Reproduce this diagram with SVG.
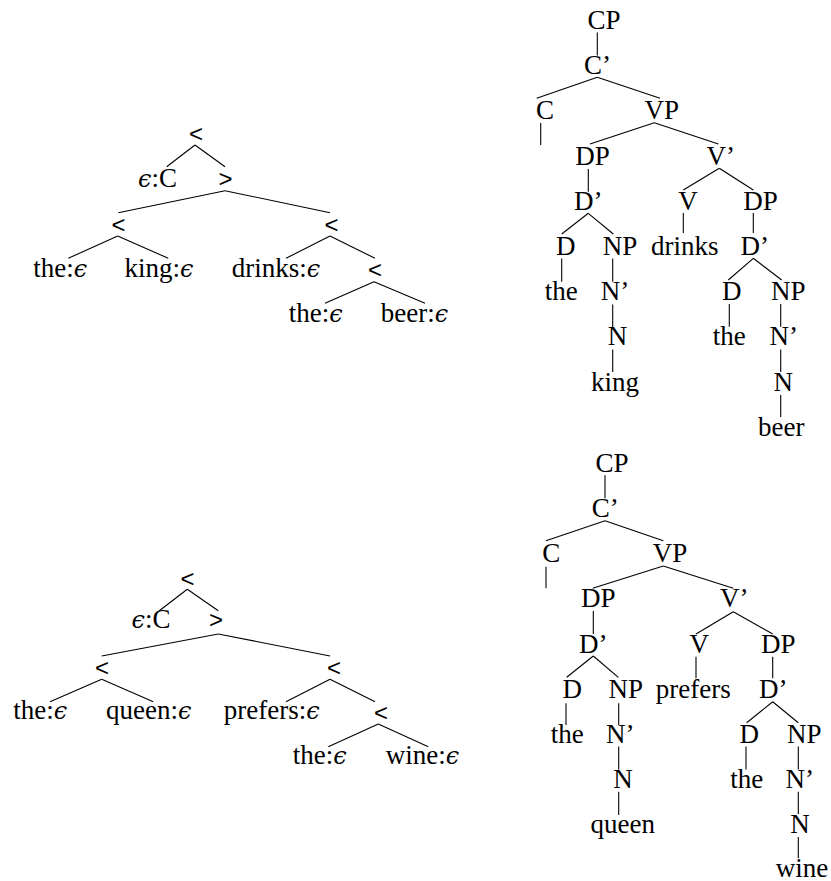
<svg xmlns="http://www.w3.org/2000/svg" width="831" height="881" viewBox="0 0 831 881">
  <style>
    .t { font-family: "Liberation Serif", "DejaVu Serif", serif; font-size: 27px; fill: #000; text-anchor: middle; }
    .op { font-family: "Liberation Sans", "DejaVu Sans", sans-serif; font-size: 24px; fill: #000; text-anchor: middle; }
    .e { font-style: italic; font-family: "DejaVu Serif", "Liberation Serif", serif; font-size: 24px; }
    .edges line { stroke: #000; stroke-width: 1.1; fill: none; }
  </style>
  <rect width="831" height="881" fill="#fff"/>

  <!-- derivation tree 1: "the king drinks the beer" -->
  <g id="tree1">
    <g class="edges" id="tree1-edges">
      <line x1="195" y1="145" x2="166.7" y2="166.7"/>
      <line x1="195" y1="145" x2="225" y2="166.7"/>
      <line x1="225" y1="190.7" x2="118.3" y2="212.7"/>
      <line x1="225" y1="190.7" x2="330" y2="212.7"/>
      <line x1="117.7" y1="236" x2="68.3" y2="258.3"/>
      <line x1="117.7" y1="236" x2="168.3" y2="258.3"/>
      <line x1="330" y1="236" x2="286" y2="258.3"/>
      <line x1="330" y1="236" x2="375" y2="258.3"/>
      <line x1="374" y1="281.7" x2="325" y2="303.3"/>
      <line x1="374" y1="281.7" x2="425" y2="303.3"/>
    </g>
    <g id="t1-root"><text class="op" x="196" y="141.5">&lt;</text></g>
    <g id="t1-c"><text class="t" x="157.5" y="187"><tspan class="e">ϵ</tspan>:C</text></g>
    <g id="t1-gt"><text class="op" x="225.5" y="187">&gt;</text></g>
    <g id="t1-dp"><text class="op" x="118.5" y="232.5">&lt;</text></g>
    <g id="t1-vp"><text class="op" x="331.5" y="232.5">&lt;</text></g>
    <g id="t1-the"><text class="t" x="60.3" y="277">the:<tspan class="e">ϵ</tspan></text></g>
    <g id="t1-king"><text class="t" x="159" y="277">king:<tspan class="e">ϵ</tspan></text></g>
    <g id="t1-drinks"><text class="t" x="276" y="277">drinks:<tspan class="e">ϵ</tspan></text></g>
    <g id="t1-obj"><text class="op" x="375" y="278">&lt;</text></g>
    <g id="t1-the2"><text class="t" x="315.8" y="322">the:<tspan class="e">ϵ</tspan></text></g>
    <g id="t1-beer"><text class="t" x="414.5" y="322">beer:<tspan class="e">ϵ</tspan></text></g>
  </g>

  <!-- phrase structure tree 1 -->
  <g id="tree2">
    <g class="edges" id="tree2-edges">
      <line x1="597.3" y1="32.5" x2="597.3" y2="55.5"/>
      <line x1="597.3" y1="77.3" x2="536.7" y2="98.3"/>
      <line x1="597.3" y1="77.3" x2="660" y2="98.3"/>
      <line x1="540.7" y1="123" x2="540.7" y2="145"/>
      <line x1="654.3" y1="122.7" x2="590" y2="144"/>
      <line x1="654.3" y1="122.7" x2="718.3" y2="144"/>
      <line x1="588.3" y1="169" x2="588.3" y2="191.7"/>
      <line x1="719.3" y1="168.3" x2="683.3" y2="190"/>
      <line x1="719.3" y1="168.3" x2="753.3" y2="190"/>
      <line x1="588.3" y1="213.3" x2="561.7" y2="234"/>
      <line x1="588.3" y1="213.3" x2="613.3" y2="234"/>
      <line x1="683.3" y1="213" x2="683.3" y2="233"/>
      <line x1="753.3" y1="213" x2="753.3" y2="233"/>
      <line x1="561.7" y1="258.5" x2="561.7" y2="281.7"/>
      <line x1="612.7" y1="258.5" x2="612.7" y2="281.7"/>
      <line x1="612.7" y1="304.5" x2="612.7" y2="327.5"/>
      <line x1="612.7" y1="349.5" x2="612.7" y2="372"/>
      <line x1="753.3" y1="258.3" x2="728.3" y2="280"/>
      <line x1="753.3" y1="258.3" x2="781.7" y2="280"/>
      <line x1="729.3" y1="304" x2="729.3" y2="326.7"/>
      <line x1="780.7" y1="304" x2="780.7" y2="326.7"/>
      <line x1="780.7" y1="349.5" x2="780.7" y2="372"/>
      <line x1="780.7" y1="395" x2="780.7" y2="417"/>
    </g>
    <g id="t2-cp"><text class="t" x="604" y="29">CP</text></g>
    <g id="t2-cbar"><text class="t" x="597.5" y="74.2">C’</text></g>
    <g id="t2-c"><text class="t" x="545" y="119.4">C</text></g>
    <g id="t2-vp"><text class="t" x="661.7" y="119.4">VP</text></g>
    <g id="t2-dp"><text class="t" x="592.5" y="164.6">DP</text></g>
    <g id="t2-vbar"><text class="t" x="720.8" y="164.6">V’</text></g>
    <g id="t2-dbar"><text class="t" x="588.3" y="209.8">D’</text></g>
    <g id="t2-v"><text class="t" x="688" y="209.8">V</text></g>
    <g id="t2-dp2"><text class="t" x="760.5" y="209.8">DP</text></g>
    <g id="t2-d"><text class="t" x="565.8" y="255">D</text></g>
    <g id="t2-np"><text class="t" x="620" y="255">NP</text></g>
    <g id="t2-drinks"><text class="t" x="684.7" y="255">drinks</text></g>
    <g id="t2-dbar2"><text class="t" x="754.7" y="255">D’</text></g>
    <g id="t2-the"><text class="t" x="561.3" y="300.2">the</text></g>
    <g id="t2-nbar"><text class="t" x="615" y="300.2">N’</text></g>
    <g id="t2-d2"><text class="t" x="731.7" y="300.2">D</text></g>
    <g id="t2-np2"><text class="t" x="788.3" y="300.2">NP</text></g>
    <g id="t2-n"><text class="t" x="617.5" y="345.4">N</text></g>
    <g id="t2-the2"><text class="t" x="729.2" y="345.4">the</text></g>
    <g id="t2-nbar2"><text class="t" x="783.7" y="345.4">N’</text></g>
    <g id="t2-king"><text class="t" x="615" y="390.6">king</text></g>
    <g id="t2-n2"><text class="t" x="783.3" y="390.6">N</text></g>
    <g id="t2-beer"><text class="t" x="781.2" y="435.8">beer</text></g>
  </g>

  <!-- derivation tree 2: "the queen prefers the wine" -->
  <g id="tree3">
    <g class="edges" id="tree3-edges">
      <line x1="187.3" y1="589.3" x2="159.3" y2="610.7"/>
      <line x1="187.3" y1="589.3" x2="218.3" y2="610.7"/>
      <line x1="218.3" y1="634" x2="101.7" y2="656"/>
      <line x1="218.3" y1="634" x2="330" y2="656"/>
      <line x1="101.7" y1="679.3" x2="50" y2="701.7"/>
      <line x1="101.7" y1="679.3" x2="153.3" y2="701.7"/>
      <line x1="330" y1="679.3" x2="286" y2="701.7"/>
      <line x1="330" y1="679.3" x2="375" y2="701.7"/>
      <line x1="378.3" y1="724" x2="328.3" y2="746.7"/>
      <line x1="378.3" y1="724" x2="428.3" y2="746.7"/>
    </g>
    <g id="t3-root"><text class="op" x="187.5" y="586.5">&lt;</text></g>
    <g id="t3-c"><text class="t" x="151" y="628.3"><tspan class="e">ϵ</tspan>:C</text></g>
    <g id="t3-gt"><text class="op" x="216" y="628.3">&gt;</text></g>
    <g id="t3-dp"><text class="op" x="102" y="675.5">&lt;</text></g>
    <g id="t3-vp"><text class="op" x="334" y="675.5">&lt;</text></g>
    <g id="t3-the"><text class="t" x="40.3" y="719.3">the:<tspan class="e">ϵ</tspan></text></g>
    <g id="t3-queen"><text class="t" x="148.7" y="719.3">queen:<tspan class="e">ϵ</tspan></text></g>
    <g id="t3-prefers"><text class="t" x="271.7" y="719.3">prefers:<tspan class="e">ϵ</tspan></text></g>
    <g id="t3-obj"><text class="op" x="381" y="721">&lt;</text></g>
    <g id="t3-the2"><text class="t" x="319.7" y="764">the:<tspan class="e">ϵ</tspan></text></g>
    <g id="t3-wine"><text class="t" x="422.5" y="764">wine:<tspan class="e">ϵ</tspan></text></g>
  </g>

  <!-- phrase structure tree 2 -->
  <g id="tree4">
    <g class="edges" id="tree4-edges">
      <line x1="605" y1="475.2" x2="605" y2="498.2"/>
      <line x1="605" y1="520.7" x2="546" y2="540.7"/>
      <line x1="605" y1="520.7" x2="663.3" y2="540.7"/>
      <line x1="546" y1="566.7" x2="546" y2="588.3"/>
      <line x1="663.3" y1="566" x2="592.7" y2="588.3"/>
      <line x1="663.3" y1="566" x2="733.3" y2="588.3"/>
      <line x1="593.3" y1="611" x2="593.3" y2="634"/>
      <line x1="733.3" y1="611.7" x2="696" y2="634"/>
      <line x1="733.3" y1="611.7" x2="772.7" y2="634"/>
      <line x1="593.3" y1="656" x2="566.7" y2="677.3"/>
      <line x1="593.3" y1="656" x2="618.3" y2="677.3"/>
      <line x1="696" y1="656.7" x2="696" y2="678.3"/>
      <line x1="772.7" y1="656.7" x2="772.7" y2="678.3"/>
      <line x1="566" y1="703.3" x2="566" y2="725"/>
      <line x1="618.7" y1="703.3" x2="618.7" y2="725"/>
      <line x1="618.7" y1="746.5" x2="618.7" y2="769.5"/>
      <line x1="618.7" y1="791.7" x2="618.7" y2="815"/>
      <line x1="772.7" y1="701.7" x2="746.7" y2="722.7"/>
      <line x1="772.7" y1="701.7" x2="798.3" y2="722.7"/>
      <line x1="746" y1="746.5" x2="746" y2="769.5"/>
      <line x1="798.3" y1="746.5" x2="798.3" y2="769.5"/>
      <line x1="798.3" y1="791.7" x2="798.3" y2="814"/>
      <line x1="798.3" y1="837" x2="798.3" y2="858"/>
    </g>
    <g id="t4-cp"><text class="t" x="612" y="471.7">CP</text></g>
    <g id="t4-cbar"><text class="t" x="605.3" y="516.9">C’</text></g>
    <g id="t4-c"><text class="t" x="551.3" y="562.1">C</text></g>
    <g id="t4-vp"><text class="t" x="670" y="562.1">VP</text></g>
    <g id="t4-dp"><text class="t" x="598.3" y="607.3">DP</text></g>
    <g id="t4-vbar"><text class="t" x="734.2" y="607.3">V’</text></g>
    <g id="t4-dbar"><text class="t" x="593.3" y="652.5">D’</text></g>
    <g id="t4-v"><text class="t" x="699.2" y="652.5">V</text></g>
    <g id="t4-dp2"><text class="t" x="778.3" y="652.5">DP</text></g>
    <g id="t4-d"><text class="t" x="572.2" y="697.7">D</text></g>
    <g id="t4-np"><text class="t" x="625.7" y="697.7">NP</text></g>
    <g id="t4-prefers"><text class="t" x="693.3" y="697.7">prefers</text></g>
    <g id="t4-dbar2"><text class="t" x="773.3" y="697.7">D’</text></g>
    <g id="t4-the"><text class="t" x="567.2" y="742.9">the</text></g>
    <g id="t4-nbar"><text class="t" x="620.3" y="742.9">N’</text></g>
    <g id="t4-d2"><text class="t" x="749.2" y="742.9">D</text></g>
    <g id="t4-np2"><text class="t" x="804.2" y="742.9">NP</text></g>
    <g id="t4-n"><text class="t" x="623" y="788.1">N</text></g>
    <g id="t4-the2"><text class="t" x="746.7" y="788.1">the</text></g>
    <g id="t4-nbar2"><text class="t" x="799.7" y="788.1">N’</text></g>
    <g id="t4-queen"><text class="t" x="622.7" y="833.3">queen</text></g>
    <g id="t4-n2"><text class="t" x="800" y="833.3">N</text></g>
    <g id="t4-wine"><text class="t" x="802" y="876.5">wine</text></g>
  </g>
</svg>
